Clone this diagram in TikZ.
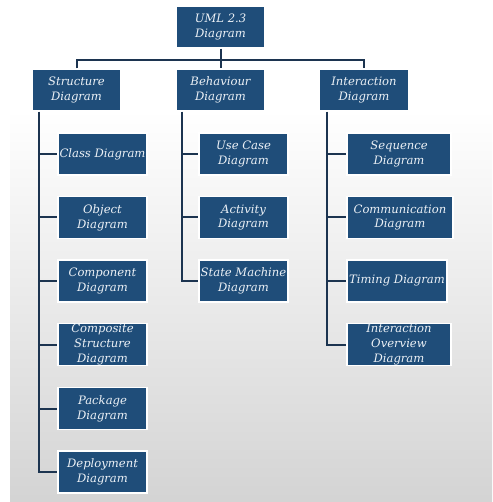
\documentclass[tikz,border=0pt]{standalone}
\usepackage{fontspec}
\setmainfont{DejaVu Serif}
\usetikzlibrary{positioning, shadows}
\definecolor{umlblue}{RGB}{31,77,121}
\definecolor{umlline}{RGB}{28,52,80}
\definecolor{umltext}{RGB}{236,241,246}
\tikzset{
  umlbox/.style={rectangle, fill=umlblue, draw=white, line width=1.2pt, text=umltext,
    font=\fontsize{11.6}{14.8}\selectfont\itshape, align=center, inner sep=0pt,
    minimum width=89pt, minimum height=42pt,
    drop shadow={opacity=0.18, shadow xshift=0.6pt, shadow yshift=-0.6pt}},
  widebox/.style={umlbox, minimum width=104pt},
  link/.style={draw=umlline, line width=2pt},
}

\begin{document}
\begin{tikzpicture}[x=1pt, y=-1pt]
\useasboundingbox (0,0) rectangle (492,502);
% background
\fill[white] (0,0) rectangle (492,502);
\shade[top color=white, bottom color=black!17] (10,110) rectangle (492,502);
% root and the three kinds
\node[umlbox] (uml) at (220.5,27) {UML 2.3\\Diagram};
\node[umlbox] (struct) at (76.5,90) {Structure\\Diagram};
\node[umlbox] (behav) at (220.5,90) {Behaviour\\Diagram};
\node[umlbox] (inter) at (364,90) {Interaction\\Diagram};
\coordinate (bar) at (220.5,60);
\draw[link] (uml) -- (behav);
\draw[link] (struct) |- (bar) -| (inter);
% structure diagrams
\node[umlbox] (class) at (102.5,154) {Class Diagram};
\node[umlbox] (object) at (102.5,217.5) {Object\\Diagram};
\node[umlbox] (compon) at (102.5,281) {Component\\Diagram};
\node[umlbox] (compos) at (102.5,344.5) {Composite\\Structure\\Diagram};
\node[umlbox] (package) at (102.5,408.5) {Package\\Diagram};
\node[umlbox] (deploy) at (102.5,472) {Deployment\\Diagram};
\coordinate (strunk) at ([xshift=8pt]struct.south west);
\draw[link] (strunk) |- (deploy);
\foreach \n in {class,object,compon,compos,package}
  \draw[link] (strunk |- \n) -- (\n);
% behaviour diagrams
\node[umlbox] (usecase) at (243.5,154) {Use Case\\Diagram};
\node[umlbox] (activity) at (243.5,217.5) {Activity\\Diagram};
\node[umlbox] (statem) at (243.5,281) {State Machine\\Diagram};
\coordinate (btrunk) at ([xshift=7pt]behav.south west);
\draw[link] (btrunk) |- (statem);
\foreach \n in {usecase,activity}
  \draw[link] (btrunk |- \n) -- (\n);
% interaction diagrams
\node[widebox] (sequence) at (399,154) {Sequence\\Diagram};
\node[widebox, minimum width=106pt] (commun) at (400,217.5) {Communication\\Diagram};
\node[widebox, minimum width=100pt] (timing) at (397,281) {Timing Diagram};
\node[widebox] (overview) at (399,344.5) {Interaction\\Overview\\Diagram};
\coordinate (itrunk) at ([xshift=8pt]inter.south west);
\draw[link] (itrunk) |- (overview);
\foreach \n in {sequence,commun,timing}
  \draw[link] (itrunk |- \n) -- (\n);
\end{tikzpicture}
\end{document}
